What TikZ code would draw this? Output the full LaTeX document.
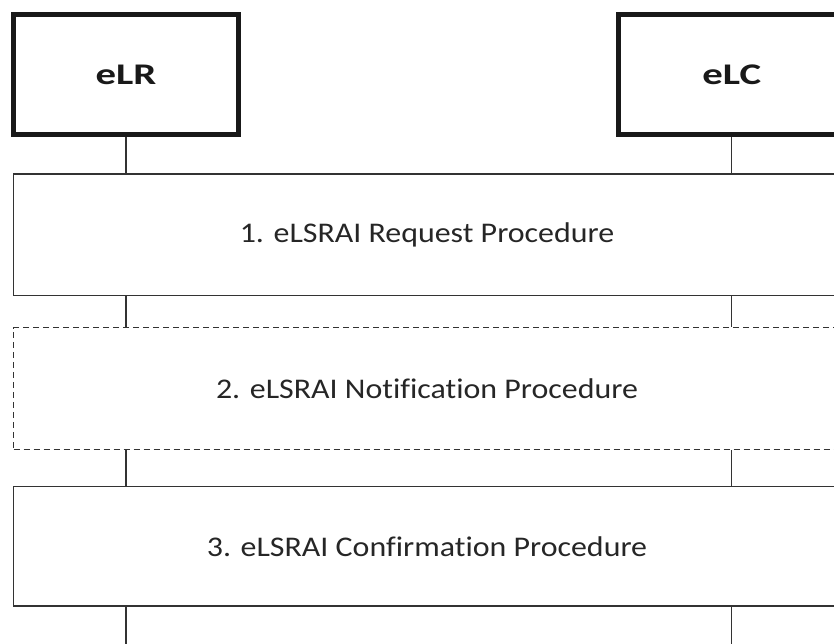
\documentclass[tikz,border=0pt]{standalone}
\usepackage{fontspec}
\setmainfont[Ligatures=NoCommon]{Carlito}
\newcommand{\hdtext}[1]{\raisebox{-4pt}{\scalebox{1.36}[1]{#1}}}
\newcommand{\prtext}[1]{\scalebox{1.12}[1]{#1}}
\begin{document}
\begin{tikzpicture}[x=1pt,y=-1pt,
  actor/.style={draw=black!90, line width=5pt, minimum width=225.5pt, minimum height=120pt,
    inner sep=0pt, font=\fontsize{30}{36}\selectfont\bfseries, text=black!90},
  proc/.style={draw=black!80, line width=1.4pt, minimum width=827pt,
    inner sep=0pt, font=\fontsize{28.5}{34}\selectfont, text=black!85},
  dashproc/.style={proc, dash pattern=on 6pt off 4pt},
  life/.style={draw=black!80, line width=1.4pt}]
\useasboundingbox (0,0) rectangle (834,644);
\clip (0,0) rectangle (834,644);
\node[actor] (eLR) at (126,74.5) {\hdtext{eLR}};
\node[actor] (eLC) at (731.7,74.5) {\hdtext{eLC}};
\node[proc, minimum height=121.6pt] (p1) at (427,234.8) {\prtext{1. eLSRAI Request Procedure}};
\node[dashproc, minimum height=121.6pt] (p2) at (427,388.5) {\prtext{2. eLSRAI Notification Procedure}};
\node[proc, minimum height=119.3pt] (p3) at (427,546.3) {\prtext{3. eLSRAI Confirmation Procedure}};
\coordinate (endR) at (126,650);
\coordinate (endC) at (731.7,650);
\draw[life] (eLR.south) -- (eLR.south |- p1.north);
\draw[life] (eLC.south) -- (eLC.south |- p1.north);
\draw[life] (eLR.south |- p1.south) -- (eLR.south |- p2.north);
\draw[life] (eLC.south |- p1.south) -- (eLC.south |- p2.north);
\draw[life] (eLR.south |- p2.south) -- (eLR.south |- p3.north);
\draw[life] (eLC.south |- p2.south) -- (eLC.south |- p3.north);
\draw[life] (eLR.south |- p3.south) -- (endR);
\draw[life] (eLC.south |- p3.south) -- (endC);
\end{tikzpicture}
\end{document}
